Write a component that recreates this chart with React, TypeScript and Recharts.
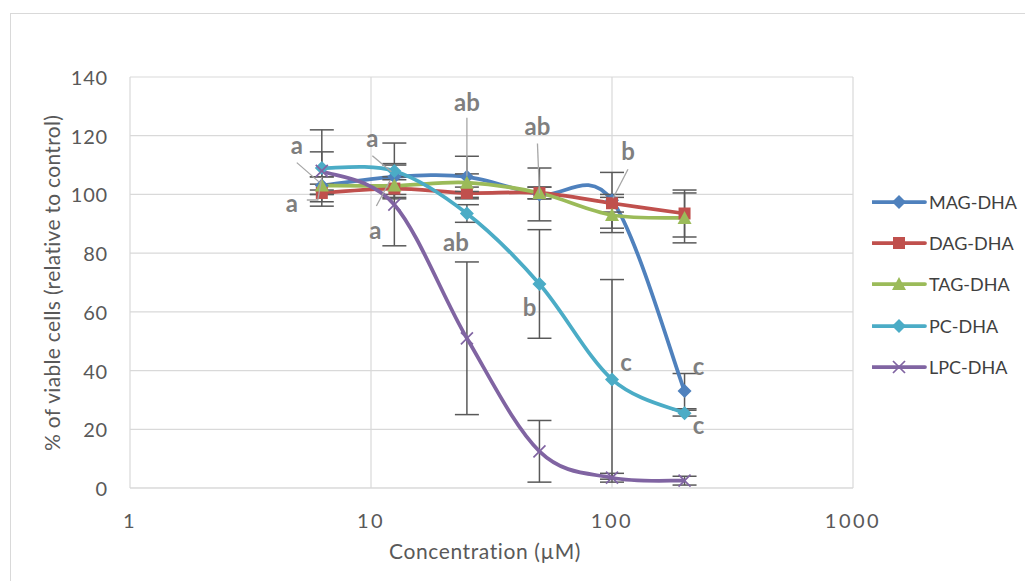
import React from 'react';
import {
  ComposedChart, Line, XAxis, YAxis, CartesianGrid, ErrorBar, LabelList, Legend,
} from 'recharts';

const concentrations = [6.25, 12.5, 25, 50, 100, 200];
const magValues = [103, 106, 106, 100, 98, 33];
const dagValues = [100.5, 102, 100.5, 100.5, 97, 93.5];
const tagValues = [103, 103, 104, 100.5, 93, 92];
const pcValues = [109, 108, 93.5, 69.5, 37, 25.5];
const lpcValues = [108, 96.5, 51, 12.5, 3.5, 2.5];
const magErrors = [3, 4, 7, 9, 9.5, 6];
const dagErrors = [3, 3, 2, 2, 3, 8];
const tagErrors = [3, 3, 3, 2, 6, 8.5];
const pcErrors = [13, 9.5, 3, 18.5, 34, 1];
const lpcErrors = [6.5, 14, 26, 10.5, 1.5, 1.5];
const magLetters = ['a', 'a', 'ab', 'ab', 'b', 'c'];
const pcLetters = ['a', 'a', 'ab', 'b', 'c', 'c'];
const xTicks = [1, 10, 100, 1000];
const yTicks = [0, 20, 40, 60, 80, 100, 120, 140];
const seriesNames = ['MAG-DHA', 'DAG-DHA', 'TAG-DHA', 'PC-DHA', 'LPC-DHA'];

const data = concentrations.map((c, i) => ({
  x: c,
  mag: magValues[i], magErr: magErrors[i], magLbl: magLetters[i],
  dag: dagValues[i], dagErr: dagErrors[i],
  tag: tagValues[i], tagErr: tagErrors[i],
  pc: pcValues[i], pcErr: pcErrors[i], pcLbl: pcLetters[i],
  lpc: lpcValues[i], lpcErr: lpcErrors[i],
}));

const COLORS = {
  mag: '#4f81bd', dag: '#c0504d', tag: '#9bbb59', pc: '#4bacc6', lpc: '#8064a2',
};
const FONT = 'Lato, "Open Sans", sans-serif';

// label layout (pixel offsets relative to the data point)
const magLabelLayout: any[] = [
  { dx: -25, dy: -41, leader: [[-25, -23], [-2, -3]] },
  { dx: -22, dy: -39, leader: [[-22, -21], [-3, -5]] },
  { dx: 0, dy: -75, leader: [[0, -59], [0, -1]] },
  { dx: -2, dy: -69, leader: [[-2, -51], [0, -1]] },
  { dx: 16, dy: -50, leader: [[16, -31], [1, -2]] },
  { dx: 14, dy: -26 },
];
const pcLabelLayout: any[] = [
  { dx: -30, dy: 34, leader: [[-15, 32], [-4, 32], [0, 9]] },
  { dx: -19, dy: 59, leader: [[-18, 35], [-4, 9]] },
  { dx: -11, dy: 28 },
  { dx: -10, dy: 23 },
  { dx: 14, dy: -18 },
  { dx: 14, dy: 11 },
];

// Excel-like smoothing (Catmull-Rom -> Bezier)
function excelCurve(context: any) {
  let pts: number[][] = [];
  return {
    areaStart() {},
    areaEnd() {},
    lineStart() { pts = []; },
    lineEnd() {
      const n = pts.length;
      if (!n) return;
      context.moveTo(pts[0][0], pts[0][1]);
      for (let i = 0; i < n - 1; i++) {
        const p0 = pts[i - 1] || pts[i];
        const p1 = pts[i];
        const p2 = pts[i + 1];
        const p3 = pts[i + 2] || pts[i + 1];
        context.bezierCurveTo(
          p1[0] + (p2[0] - p0[0]) / 6, p1[1] + (p2[1] - p0[1]) / 6,
          p2[0] - (p3[0] - p1[0]) / 6, p2[1] - (p3[1] - p1[1]) / 6,
          p2[0], p2[1],
        );
      }
    },
    point(x: number, y: number) { pts.push([+x, +y]); },
  };
}

function Marker({ kind, cx, cy, color }: any) {
  if (kind === 'diamond') {
    const r = 7;
    return <path d={`M${cx},${cy - r}L${cx + r},${cy}L${cx},${cy + r}L${cx - r},${cy}Z`} fill={color} />;
  }
  if (kind === 'square') {
    const r = 6;
    return <rect x={cx - r} y={cy - r} width={2 * r} height={2 * r} fill={color} />;
  }
  if (kind === 'triangle') {
    return <path d={`M${cx},${cy - 7}L${cx + 7},${cy + 6}L${cx - 7},${cy + 6}Z`} fill={color} />;
  }
  const r = 6;
  return (
    <g stroke={color} strokeWidth={1.7}>
      <line x1={cx - r} y1={cy - r} x2={cx + r} y2={cy + r} />
      <line x1={cx - r} y1={cy + r} x2={cx + r} y2={cy - r} />
    </g>
  );
}

const makeDot = (kind: string, color: string) => (props: any) => (
  <Marker key={`d-${kind}-${props.index}`} kind={kind} cx={props.cx} cy={props.cy} color={color} />
);

const makeLetterLabel = (layout: any[]) => (props: any) => {
  const { x, y, value, index } = props;
  const l = layout[index];
  if (!l || !value) return null;
  return (
    <g key={`l-${index}`}>
      {l.leader && (
        <polyline
          points={l.leader.map((p: number[]) => `${x + p[0]},${y + p[1]}`).join(' ')}
          fill="none" stroke="#a6a6a6" strokeWidth={1.3}
        />
      )}
      <text x={x + l.dx} y={y + l.dy} textAnchor="middle" dominantBaseline="central"
        fontFamily={FONT} fontWeight={700} fontSize={24} fill="#7f7f7f">{value}</text>
    </g>
  );
};

const XTick = (props: any) => (
  <text x={props.x} y={props.y + 32} textAnchor="middle" dominantBaseline="central"
    fontFamily={FONT} fontSize={20} letterSpacing={2.5} fill="#595959">{props.payload.value}</text>
);
const YTick = (props: any) => (
  <text x={props.x - 22} y={props.y} textAnchor="end" dominantBaseline="central"
    fontFamily={FONT} fontSize={20} letterSpacing={0.8} fill="#595959">{props.payload.value}</text>
);

const legendKinds = [
  ['diamond', COLORS.mag], ['square', COLORS.dag], ['triangle', COLORS.tag],
  ['diamond', COLORS.pc], ['x', COLORS.lpc],
];

const LegendContent = () => (
  <div>
    {seriesNames.map((name, i) => (
      <div key={name} style={{ height: 41.3, display: 'flex', alignItems: 'center' }}>
        <svg width={56} height={16} style={{ display: 'block' }}>
          <line x1={1} y1={8} x2={53} y2={8} stroke={legendKinds[i][1]} strokeWidth={3.75} strokeLinecap="round" />
          <Marker kind={legendKinds[i][0]} cx={27} cy={8} color={legendKinds[i][1]} />
        </svg>
        <span style={{ fontFamily: FONT, fontSize: 18, color: '#404040', marginLeft: 1 }}>{name}</span>
      </div>
    ))}
  </div>
);

export default function App() {
  return (
    <div style={{ position: 'relative', width: 1025, height: 573 }}>
      <div style={{
        position: 'absolute', left: 2, top: 5, width: 1100, height: 700,
        border: '1px solid #d9d9d9', boxSizing: 'border-box', pointerEvents: 'none',
      }} />
      <ComposedChart width={1025} height={573} data={data}
        margin={{ top: 69, right: 180, bottom: 0, left: 0 }}>
        <CartesianGrid stroke="#d9d9d9" strokeWidth={1.2} />
        <XAxis dataKey="x" type="number" scale="log" domain={[1, 1000]} ticks={xTicks}
          allowDataOverflow height={93} tickSize={0} tickMargin={0} tickLine={false}
          axisLine={{ stroke: '#d9d9d9' }} tick={<XTick />} interval={0}
          label={{
            content: () => (
              <text x={477} y={542} textAnchor="middle" dominantBaseline="central"
                fontFamily={FONT} fontSize={21} letterSpacing={0.6} fill="#595959">Concentration (µM)</text>
            ),
          }} />
        <YAxis type="number" domain={[0, 140]} ticks={yTicks} width={122} tickSize={0}
          tickMargin={0} tickLine={false} axisLine={false} tick={<YTick />} interval={0}
          label={{
            content: () => (
              <text x={43} y={275} textAnchor="middle" dominantBaseline="central"
                transform="rotate(-90 43 275)" fontFamily={FONT} fontSize={21} letterSpacing={0.3}
                fill="#595959">% of viable cells (relative to control)</text>
            ),
          }} />
        <Legend layout="vertical" align="center" verticalAlign="middle"
          wrapperStyle={{ left: 864, top: 173, width: 160 }} content={<LegendContent />} />
        <Line dataKey="mag" name="MAG-DHA" type={excelCurve as any} stroke={COLORS.mag}
          strokeWidth={3.75} dot={makeDot('diamond', COLORS.mag)} activeDot={false}
          isAnimationActive={false}>
          <ErrorBar dataKey="magErr" width={12} stroke="#595959" strokeWidth={1.5} direction="y" />
          <LabelList dataKey="magLbl" content={makeLetterLabel(magLabelLayout)} />
        </Line>
        <Line dataKey="dag" name="DAG-DHA" type={excelCurve as any} stroke={COLORS.dag}
          strokeWidth={3.75} dot={makeDot('square', COLORS.dag)} activeDot={false}
          isAnimationActive={false}>
          <ErrorBar dataKey="dagErr" width={12} stroke="#595959" strokeWidth={1.5} direction="y" />
        </Line>
        <Line dataKey="tag" name="TAG-DHA" type={excelCurve as any} stroke={COLORS.tag}
          strokeWidth={3.75} dot={makeDot('triangle', COLORS.tag)} activeDot={false}
          isAnimationActive={false}>
          <ErrorBar dataKey="tagErr" width={12} stroke="#595959" strokeWidth={1.5} direction="y" />
        </Line>
        <Line dataKey="pc" name="PC-DHA" type={excelCurve as any} stroke={COLORS.pc}
          strokeWidth={3.75} dot={makeDot('diamond', COLORS.pc)} activeDot={false}
          isAnimationActive={false}>
          <ErrorBar dataKey="pcErr" width={12} stroke="#595959" strokeWidth={1.5} direction="y" />
          <LabelList dataKey="pcLbl" content={makeLetterLabel(pcLabelLayout)} />
        </Line>
        <Line dataKey="lpc" name="LPC-DHA" type={excelCurve as any} stroke={COLORS.lpc}
          strokeWidth={3.75} dot={makeDot('x', COLORS.lpc)} activeDot={false}
          isAnimationActive={false}>
          <ErrorBar dataKey="lpcErr" width={12} stroke="#595959" strokeWidth={1.5} direction="y" />
        </Line>
      </ComposedChart>
    </div>
  );
}
